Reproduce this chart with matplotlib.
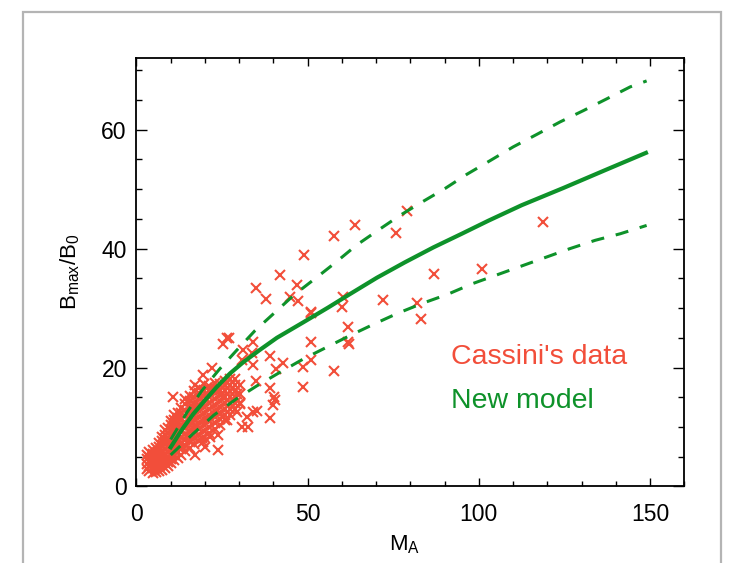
import matplotlib
matplotlib.use('Agg')
import matplotlib.pyplot as plt
from matplotlib.patches import Rectangle
from matplotlib.ticker import MultipleLocator

plt.rcParams['font.family'] = ['Liberation Sans', 'DejaVu Sans']

red = '#F24E3A'
green = '#0E922A'

# model curves
model_ma = [10, 13.2, 16.6, 20, 23.4, 27.3, 31.2, 36.1, 41, 48.7, 56, 61.9, 70.2,
            78.4, 86.7, 95, 102.8, 112.5, 124.7, 136.9, 148.8]
model_mid = [6.6, 9.5, 12.2, 14.5, 16.7, 19.0, 20.9, 23.0, 25.0, 27.6, 30.1, 32.2, 35.1,
             37.7, 40.2, 42.5, 44.7, 47.3, 50.2, 53.2, 56.1]

upper_ma = [10, 14.8, 19.2, 24.2, 29.1, 34.6, 40.3, 46, 53.6, 58, 64.3, 70.6, 77,
            83.3, 90.1, 96.5, 103.3, 110, 116.9, 123.7, 130.5, 137.4, 144.2, 149]
upper_b = [7.9, 12.5, 16.2, 19.7, 22.8, 26.2, 29.2, 32.2, 35.6, 37.6, 40.6, 43.1, 45.6,
           47.8, 50.1, 52.5, 54.8, 57.1, 59.2, 61.3, 63.2, 65.2, 67.2, 68.2]

lower_ma = [10, 16.6, 22.6, 29.1, 35.1, 41.9, 48.6, 54.8, 62.4, 69.7, 76.2, 83.5,
            90.8, 98.1, 126.6, 134, 141.3, 149]
lower_b = [5.3, 8.9, 12.0, 14.7, 16.9, 19.2, 21.4, 23.2, 25.4, 27.4, 29.1, 30.8,
           32.3, 34.1, 40.0, 41.4, 42.5, 43.9]

# Cassini data: sparse points
data_ma = [78.9, 63.8, 57.8, 75.8, 48.9, 118.8, 86.9, 100.8, 60.4, 59.9, 71.9, 81.9,
           83.0, 50.9, 61.9, 61.9, 62.1, 50.9, 50.9, 48.7, 57.8, 48.7,
           41.9, 34.9, 37.8, 47.0, 44.8, 47.1, 51.0, 42.9, 40.7,
           27.1, 26.4, 25.2, 34.1, 31.2, 33.8, 39.0, 30.9, 33.9, 35.0, 22.0, 19.5,
           17.1, 10.8, 39.0, 40.2, 39.8, 38.9, 35.1, 32.2, 32.7, 30.7, 23.9, 23.9,
           20.0, 17.1, 29.3, 29.3, 27.3, 30.2, 25.4, 21.5, 18.6, 23.4, 26.4, 20.5,
           16.6, 17.6, 14.2, 14.7, 19.1, 40.5, 34.1, 21.5, 19.5, 13.7]
data_b = [46.3, 43.9, 42.1, 42.7, 38.9, 44.4, 35.8, 36.5, 31.9, 30.2, 31.3, 30.8,
          28.1, 29.3, 26.8, 24.3, 23.9, 24.3, 21.2, 20.1, 19.5, 16.7,
          35.6, 33.3, 31.5, 33.8, 31.9, 31.2, 29.2, 20.8, 19.8,
          25.0, 24.9, 24.0, 24.3, 22.9, 22.4, 21.9, 21.2, 20.4, 17.7, 20.0, 18.7,
          17.0, 15.1, 16.5, 15.1, 13.7, 11.6, 12.7, 11.7, 10.0, 10.0, 8.6, 6.1,
          6.6, 5.3, 12.5, 15.6, 17.0, 13.9, 15.1, 16.2, 14.8, 12.8, 11.1, 11.4,
          13.4, 10.0, 10.6, 8.6, 8.1, 14.5, 12.5, 8.3, 7.5, 6.7]

# Cassini data: dense cluster, one list of B values per MA column
cluster = {
    3.0: [3.0, 3.8, 4.6, 5.3],
    3.8: [2.6, 3.4, 4.2, 5.0, 5.8],
    4.7: [2.3, 3.1, 3.9, 4.7, 5.5, 6.1],
    5.6: [2.5, 3.3, 4.1, 4.9, 5.7, 6.4],
    6.5: [2.6, 3.5, 4.3, 5.1, 5.9, 6.7, 7.3],
    7.4: [2.8, 3.6, 4.4, 5.2, 6.0, 6.8, 7.7, 8.3],
    8.3: [3.1, 3.9, 4.7, 5.5, 6.3, 7.1, 7.9, 8.7, 9.5],
    9.2: [3.4, 4.2, 5.0, 5.8, 6.6, 7.4, 8.2, 9.0, 9.9],
    10.1: [3.9, 4.7, 5.5, 6.3, 7.1, 7.9, 8.7, 9.5, 10.3, 11.0],
    11.0: [4.4, 5.3, 6.1, 7.0, 7.8, 8.7, 9.5, 10.4, 11.2, 12.1],
    12.0: [4.8, 5.8, 6.7, 7.7, 8.6, 9.6, 10.5, 11.5, 12.4],
    13.1: [5.3, 6.3, 7.3, 8.3, 9.3, 10.3, 11.3, 12.3, 13.2],
    14.2: [5.9, 6.9, 7.9, 8.9, 9.9, 10.9, 11.9, 12.9, 13.9, 14.7],
    15.5: [6.4, 7.4, 8.4, 9.4, 10.4, 11.4, 12.4, 13.4, 14.4, 15.3],
    16.9: [7.1, 8.1, 9.1, 10.1, 11.1, 12.1, 13.1, 14.1, 15.1, 16.0],
    18.3: [7.7, 8.7, 9.7, 10.7, 11.7, 12.7, 13.7, 14.7, 15.7, 16.5],
    19.8: [8.3, 9.3, 10.3, 11.3, 12.3, 13.3, 14.3, 15.3, 16.3, 17.2],
    21.3: [9.0, 10.0, 11.0, 12.0, 13.0, 14.0, 15.0, 16.0, 16.9],
    22.8: [9.7, 10.7, 11.7, 12.7, 13.7, 14.7, 15.7, 16.6, 17.4],
    24.3: [10.4, 11.4, 12.4, 13.4, 14.4, 15.4, 16.3, 17.2],
    25.8: [11.1, 12.1, 13.1, 14.1, 15.1, 16.1, 17.0, 17.8],
    27.3: [12.1, 13.1, 14.1, 15.1, 16.1, 17.1, 18.0],
    28.8: [13.1, 14.1, 15.1, 16.1, 17.1, 18.0],
    30.3: [14.1, 15.6, 17.0],
}

fig = plt.figure(figsize=(7.31, 5.63), dpi=100)
ax = fig.add_axes([0.1867, 0.1359, 0.7494, 0.7605])

cl_ma = [m for m, bs in cluster.items() for b in bs]
cl_b = [b for m, bs in cluster.items() for b in bs]
ax.plot(cl_ma, cl_b, 'x', color=red, ms=6.5, mew=1.5)
ax.plot(data_ma, data_b, 'x', color=red, ms=6.5, mew=1.5)

ax.plot(model_ma, model_mid, '-', color=green, lw=3.0, solid_joinstyle='round')
ax.plot(upper_ma, upper_b, color=green, lw=2.2, ls=(0, (4.3, 3.9)))
ax.plot(lower_ma, lower_b, color=green, lw=2.2, ls=(0, (4.3, 3.9)))

ax.set_xlim(0, 160)
ax.set_ylim(0, 72)
ax.xaxis.set_major_locator(MultipleLocator(50))
ax.xaxis.set_minor_locator(MultipleLocator(10))
ax.yaxis.set_major_locator(MultipleLocator(20))
ax.yaxis.set_minor_locator(MultipleLocator(5))
ax.tick_params(axis='x', which='major', direction='in', top=True, length=6, width=1, labelsize=16.5, pad=12)
ax.tick_params(axis='x', which='minor', direction='in', top=True, length=3.5, width=1)
ax.tick_params(axis='y', which='major', direction='in', right=True, length=8, width=1, labelsize=16.5, pad=7)
ax.tick_params(axis='y', which='minor', direction='in', right=True, length=4.5, width=1)
for s in ax.spines.values():
    s.set_linewidth(1.3)

ax.text(0.574, 0.302, "Cassini's data", color=red, fontsize=20.5, transform=ax.transAxes, va='center')
ax.text(0.574, 0.200, "New model", color=green, fontsize=20.5, transform=ax.transAxes, va='center')

fig.text(405 / 731, 1 - 545 / 563, r'$\mathregular{M_A}$', fontsize=16, ha='center', va='center')
fig.text(70 / 731, 1 - 272 / 563, r'$\mathregular{B_{max}/B_0}$', fontsize=16, ha='center', va='center', rotation=90)

fig.add_artist(Rectangle((23 / 731, -0.1), 698 / 731, 1.1 - 12 / 563, transform=fig.transFigure,
                         fill=False, edgecolor='#b4b4b4', lw=1.6))

fig.savefig('out.png', dpi=100)
